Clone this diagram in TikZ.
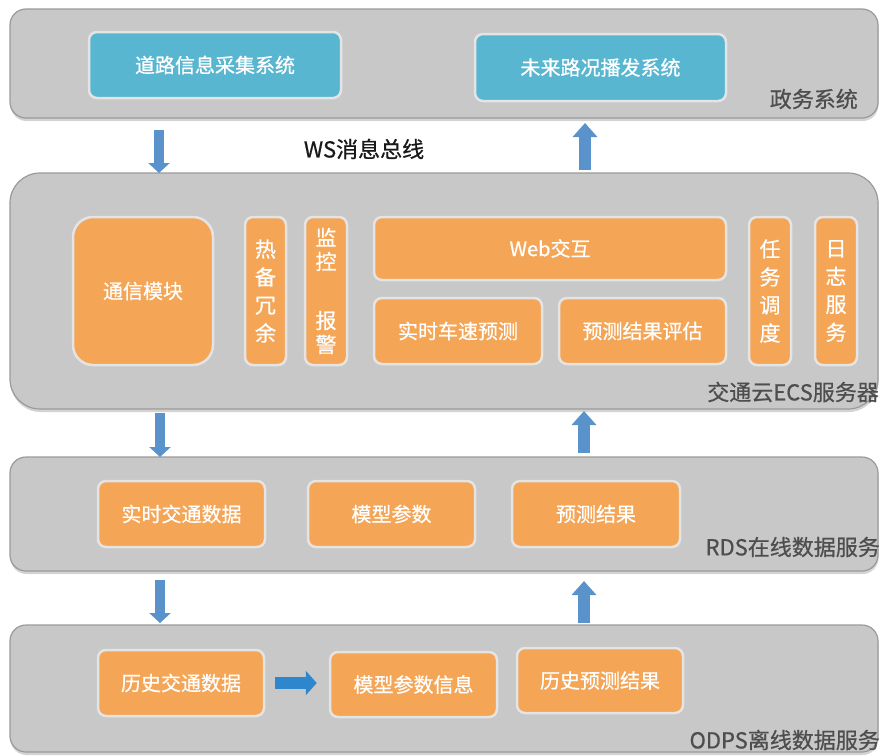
\documentclass[tikz,border=0pt]{standalone}
\usepackage{fontspec}
\setmainfont{Noto Sans CJK SC}
\newfontfamily\boxfont[FakeBold=0.7]{Noto Sans CJK SC}
\usetikzlibrary{arrows.meta,shadows}
\definecolor{layergray}{HTML}{C8C8C8}
\definecolor{layerborder}{HTML}{9A9A9A}
\definecolor{boxorange}{HTML}{F4A556}
\definecolor{boxblue}{HTML}{58B6D0}
\definecolor{boxrim}{HTML}{E4E4E4}
\definecolor{labelgray}{HTML}{4E4E4E}
\definecolor{arrowblue}{HTML}{5A93CB}
\definecolor{arrowblue2}{HTML}{2E86CC}
\begin{document}
\begin{tikzpicture}[x=1pt,y=-1pt,
  layer/.style={draw=layerborder, line width=1.2pt, fill=layergray, inner sep=0pt,
    rounded corners=16pt, drop shadow={shadow xshift=0.5pt, shadow yshift=-3pt, opacity=0.35}},
  obox/.style={draw=boxrim, line width=2.5pt, fill=boxorange, inner sep=0pt,
    rounded corners=8pt, text=white, font=\boxfont\fontsize{20}{24}\selectfont, align=center},
  bbox/.style={obox, fill=boxblue},
  vtext/.style={font=\boxfont\fontsize{21}{28}\selectfont},
  lbl/.style={text=labelgray, font=\boxfont\fontsize{22}{26}\selectfont, inner sep=0pt, anchor=east},
  darr/.style={draw=arrowblue, line width=10pt, -{Triangle[width=21pt,length=10pt]}},
  uarr/.style={draw=arrowblue, line width=12pt, -{Triangle[width=24pt,length=14pt]}},
  rarr/.style={draw=arrowblue2, line width=12pt, -{Triangle[width=24pt,length=11pt]}}
]
\useasboundingbox (0,0) rectangle (882,755);

% layers
\node[layer, minimum width=868pt, minimum height=109pt] (gov) at (444,63.5) {};
\node[layer, minimum width=868pt, minimum height=236pt, rounded corners=30pt] (ecs) at (444,291) {};
\node[layer, minimum width=868pt, minimum height=114pt] (rds) at (444,514) {};
\node[layer, minimum width=868pt, minimum height=127pt] (odps) at (444,688.5) {};

% layer labels
\node[lbl] (govl) at (858,99) {政务系统};
\node[lbl] (ecsl) at (879,392) {交通云ECS服务器};
\node[lbl] (rdsl) at (880,547) {RDS在线数据服务};
\node[lbl] (odpsl) at (880,740) {ODPS离线数据服务};

% top layer boxes
\node[bbox, minimum width=252pt, minimum height=66pt] (info) at (215,65) {道路信息采集系统};
\node[bbox, minimum width=251pt, minimum height=67pt] (broad) at (600.5,67.5) {未来路况播发系统};

\node[font=\boxfont\fontsize{22}{26}\selectfont, text=black!90] (ws) at (364,149) {WS消息总线};

% ECS boxes
\node[obox, minimum width=140pt, minimum height=148pt, rounded corners=20pt] (comm) at (143,291) {通信模块};
\node[obox, vtext, minimum width=41pt, minimum height=148pt] (hot) at (265.5,291) {热\\备\\冗\\余};
\node[obox, font=\boxfont\fontsize{21}{24}\selectfont, minimum width=42pt, minimum height=148pt] (mon) at (326,291) {监\\控\\[35pt]报\\警};
\node[obox, minimum width=352pt, minimum height=63pt] (web) at (550,248.5) {Web交互};
\node[obox, minimum width=168pt, minimum height=66pt] (speed) at (458,331) {实时车速预测};
\node[obox, minimum width=167pt, minimum height=66pt] (eval) at (642.5,331) {预测结果评估};
\node[obox, vtext, minimum width=42pt, minimum height=148pt] (task) at (770,291) {任\\务\\调\\度};
\node[obox, vtext, minimum width=42pt, minimum height=148pt] (log) at (836,291) {日\\志\\服\\务};

% RDS boxes
\node[obox, minimum width=167pt, minimum height=66pt] (rt) at (181.5,514) {实时交通数据};
\node[obox, minimum width=167pt, minimum height=66pt] (param) at (391.5,514) {模型参数};
\node[obox, minimum width=168pt, minimum height=66pt] (res) at (596,514) {预测结果};

% ODPS boxes
\node[obox, minimum width=166pt, minimum height=66pt] (hist) at (181,683) {历史交通数据};
\node[obox, minimum width=167pt, minimum height=65pt] (pinfo) at (413.5,684.5) {模型参数信息};
\node[obox, minimum width=166pt, minimum height=65pt] (hres) at (600,680.5) {历史预测结果};

% arrow end points
\coordinate (a1s) at (159,130); \coordinate (a1e) at (159,173);
\coordinate (a2s) at (585,170); \coordinate (a2e) at (585,123);
\coordinate (a3s) at (160,413); \coordinate (a3e) at (160,457);
\coordinate (a4s) at (584,453); \coordinate (a4e) at (584,411);
\coordinate (a5s) at (160,580); \coordinate (a5e) at (160,623);
\coordinate (a6s) at (584,623); \coordinate (a6e) at (584,581);

\draw[darr] (a1s) -- (a1e);
\draw[uarr] (a2s) -- (a2e);
\draw[darr] (a3s) -- (a3e);
\draw[uarr] (a4s) -- (a4e);
\draw[darr] (a5s) -- (a5e);
\draw[uarr] (a6s) -- (a6e);
\draw[rarr] (hist.east) ++(10,0) coordinate (a7s) -- ([xshift=-12pt]pinfo.west |- hist.east);
\end{tikzpicture}
\end{document}
